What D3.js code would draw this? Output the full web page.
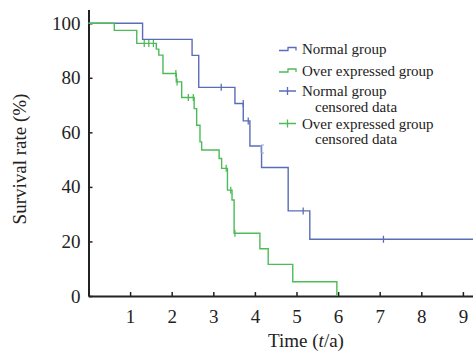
<!DOCTYPE html>
<html>
<head>
<meta charset="utf-8">
<script src="https://cdn.jsdelivr.net/npm/d3@7"></script>
<style>
  body { margin: 0; background: #fff; }
  text { font-family: "Liberation Serif", "Times New Roman", serif; fill: #222; }
</style>
</head>
<body>
<div class="chart"></div>
<script>
// Kaplan-Meier curves
var normalTimes = [0, 1.30, 2.49, 2.65, 3.52, 3.72, 3.88, 4.16, 4.80, 5.32, 9.25];
var normalSurv  = [100, 94.1, 88.2, 76.5, 70.6, 64.2, 55.0, 47.1, 31.2, 20.8, 20.8];
var normalCensorT = [3.19, 3.72, 3.84, 5.16, 7.09];
var normalCensorS = [76.5, 70.6, 64.2, 31.2, 20.8];

var overTimes = [0, 0.62, 1.16, 1.63, 1.69, 1.79, 2.11, 2.24, 2.54, 2.60, 2.68, 2.72, 3.14, 3.20, 3.34, 3.45, 3.50, 4.12, 4.32, 4.91, 5.97];
var overSurv  = [100, 97.4, 92.6, 90.5, 88.3, 81.6, 78.5, 72.8, 68.7, 62.6, 56.5, 53.5, 50.4, 46.8, 38.8, 35.2, 23.0, 17.3, 11.6, 5.2, 0];
var overCensorT = [1.34, 1.45, 1.56, 2.10, 2.13, 2.40, 2.52, 3.31, 3.42, 3.52];
var overCensorS = [92.6, 92.6, 92.6, 81.6, 78.5, 72.8, 72.8, 46.8, 38.8, 23.0];

var xTicks = [1, 2, 3, 4, 5, 6, 7, 8, 9];
var yTicks = [0, 20, 40, 60, 80, 100];
var legendLabels = [["Normal group"], ["Over expressed group"], ["Normal group", "censored data"], ["Over expressed group", "censored data"]];

var blue = "#5b6cb8", green = "#4cbb58";

var svgWidth = 473, svgHeight = 356;
var svg = d3.select(".chart").append("svg")
  .attr("width", svgWidth)
  .attr("height", svgHeight);

var x = d3.scaleLinear().domain([0, 9.25]).range([88.5, 473.3]);
var y = d3.scaleLinear().domain([0, 105]).range([296, 9.6]);

// axes
var xAxis = d3.axisBottom(x).tickValues(xTicks).tickSizeInner(-4).tickSizeOuter(0).tickPadding(10);
var yAxis = d3.axisLeft(y).tickValues(yTicks).tickSizeInner(-4).tickSizeOuter(0).tickPadding(8);

var gx = svg.append("g").attr("transform", "translate(0,296)").call(xAxis);
var gy = svg.append("g").attr("transform", "translate(88.5,0)").call(yAxis);

[gx, gy].forEach(function(g) {
  g.select(".domain").attr("stroke", "#222").attr("stroke-width", 2);
  g.selectAll(".tick line").attr("stroke", "#222").attr("stroke-width", 1.5);
  g.selectAll(".tick text").style("font-family", "Liberation Serif").style("font-size", "19px").attr("fill", "#222");
});
gx.selectAll(".tick text").attr("dy", "0.9em");

// curves
var line = d3.line()
  .x(function(d) { return x(d[0]); })
  .y(function(d) { return y(d[1]); })
  .curve(d3.curveStepAfter);

function drawCurve(times, surv, color) {
  svg.append("path")
    .datum(d3.zip(times, surv))
    .attr("d", line)
    .attr("fill", "none")
    .attr("stroke", color)
    .attr("stroke-width", 1.4);
}

function drawCensors(times, surv, color) {
  var pts = d3.zip(times, surv);
  svg.selectAll(null).data(pts).enter().append("line")
    .attr("x1", function(d) { return x(d[0]); })
    .attr("x2", function(d) { return x(d[0]); })
    .attr("y1", function(d) { return y(d[1]) - 3.5; })
    .attr("y2", function(d) { return y(d[1]) + 3.5; })
    .attr("stroke", color)
    .attr("stroke-width", 1.3);
}

drawCurve(normalTimes, normalSurv, blue);
drawCurve(overTimes, overSurv, green);
drawCensors(normalCensorT, normalCensorS, blue);
drawCensors(overCensorT, overCensorS, green);

// legend
var legendColors = [blue, green, blue, green];
var legendY = [49, 70.5, 91, 123.5];
var legend = svg.append("g");

legendLabels.forEach(function(lines, i) {
  var ly = legendY[i];
  if (i < 2) {
    legend.append("path")
      .attr("d", "M279," + (ly + 1.5) + "H288V" + (ly - 1.5) + "H296V" + (ly + 1.5))
      .attr("fill", "none")
      .attr("stroke", legendColors[i])
      .attr("stroke-width", 1.3);
  } else {
    legend.append("path")
      .attr("d", "M279," + ly + "H296M287.5," + (ly - 4) + "V" + (ly + 4))
      .attr("fill", "none")
      .attr("stroke", legendColors[i])
      .attr("stroke-width", 1.3);
  }
  lines.forEach(function(t, j) {
    legend.append("text")
      .attr("x", j === 0 ? 302 : 315)
      .attr("y", ly + j * 15.5 - (lines.length > 1 ? 0 : 0))
      .attr("dy", "0.35em")
      .style("font-size", "15px")
      .text(t);
  });
});

// small frame corner left under legend
svg.append("path")
  .attr("d", "M264,145H261V153H264")
  .attr("fill", "none")
  .attr("stroke", "#9aa6d6")
  .attr("stroke-width", 1);

// axis titles
svg.append("text")
  .attr("transform", "translate(26,159) rotate(-90)")
  .attr("text-anchor", "middle")
  .style("font-size", "19px")
  .text("Survival rate (%)");

var xt = svg.append("text")
  .attr("x", 306)
  .attr("y", 347)
  .attr("text-anchor", "middle")
  .style("font-size", "19px");
xt.append("tspan").text("Time (");
xt.append("tspan").style("font-style", "italic").text("t");
xt.append("tspan").text("/a)");
</script>
</body>
</html>
